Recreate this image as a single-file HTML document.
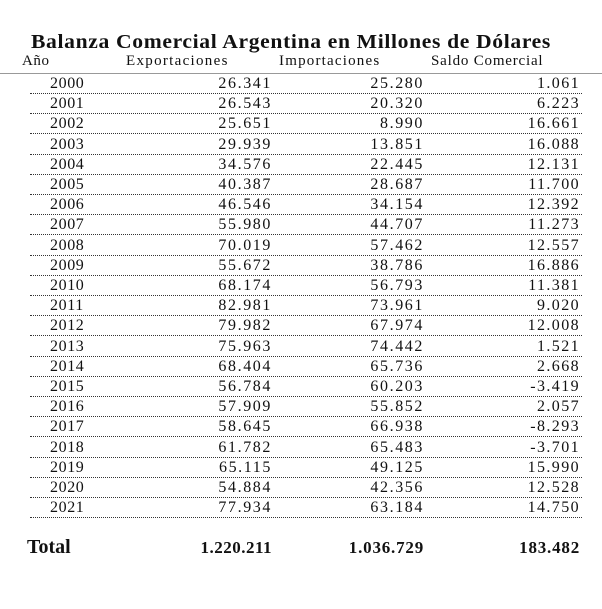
<!DOCTYPE html>
<html><head><meta charset="utf-8">
<style>
body{margin:0;width:602px;height:609px;background:#fff;position:relative;overflow:hidden;font-family:"Liberation Serif",serif;color:#111}
.t{position:absolute;white-space:nowrap}
.r{position:absolute;left:30px;width:552px;height:0;border-bottom:1px dotted #333}
</style></head><body>
<div class="t" style="left:0;width:582px;text-align:center;top:31px;font-size:20px;font-weight:bold;letter-spacing:0.6px;transform:scaleX(1.08);transform-origin:291px 0">Balanza Comercial Argentina en Millones de Dólares</div>
<div class="t" style="left:22px;top:53px;font-size:15px;letter-spacing:0.6px">Año</div>
<div class="t" style="left:126px;top:53px;font-size:15px;letter-spacing:1.3px">Exportaciones</div>
<div class="t" style="left:279px;top:53px;font-size:15px;letter-spacing:1.2px">Importaciones</div>
<div class="t" style="left:431px;top:53px;font-size:15px;letter-spacing:0.8px">Saldo Comercial</div>
<div style="position:absolute;left:0;top:73px;width:602px;height:1px;background:#999"></div>
<div id="tbl"></div>
<div class="t" style="left:27px;top:536px;font-size:20px;font-weight:bold">Total</div>
<div class="t" style="right:330px;top:538px;font-size:17px;font-weight:bold;letter-spacing:0.5px">1.220.211</div>
<div class="t" style="right:178px;top:538px;font-size:17px;font-weight:bold;letter-spacing:0.8px">1.036.729</div>
<div class="t" style="right:22px;top:538px;font-size:17px;font-weight:bold;letter-spacing:0.8px">183.482</div>
<script>
const years=["2000","2001","2002","2003","2004","2005","2006","2007","2008","2009","2010","2011","2012","2013","2014","2015","2016","2017","2018","2019","2020","2021"];
const exportsVals=["26.341","26.543","25.651","29.939","34.576","40.387","46.546","55.980","70.019","55.672","68.174","82.981","79.982","75.963","68.404","56.784","57.909","58.645","61.782","65.115","54.884","77.934"];
const importsVals=["25.280","20.320","8.990","13.851","22.445","28.687","34.154","44.707","57.462","38.786","56.793","73.961","67.974","74.442","65.736","60.203","55.852","66.938","65.483","49.125","42.356","63.184"];
const balanceVals=["1.061","6.223","16.661","16.088","12.131","11.700","12.392","11.273","12.557","16.886","11.381","9.020","12.008","1.521","2.668","-3.419","2.057","-8.293","-3.701","15.990","12.528","14.750"];
const tbl=document.getElementById('tbl');
years.forEach((y,i)=>{
  const top=75+i*20.2;
  const mk=(txt,style,name)=>{
    const d=document.createElement('div');
    d.className='t';
    
    
    d.style.cssText=style+';top:'+top+'px;font-size:16px';
    d.textContent=txt;tbl.appendChild(d);
  };
  mk(y,'left:50px;letter-spacing:0.6px','year-'+y);
  mk(exportsVals[i],'right:330px;letter-spacing:1.6px','exports-'+y);
  mk(importsVals[i],'right:178px;letter-spacing:1.6px','imports-'+y);
  mk(balanceVals[i],'right:22px;letter-spacing:1.4px','balance-'+y);
  const l=document.createElement('div');
  l.className='r';
  
  
  l.style.top=(top+18)+'px';tbl.appendChild(l);
});
</script>
</body></html>
